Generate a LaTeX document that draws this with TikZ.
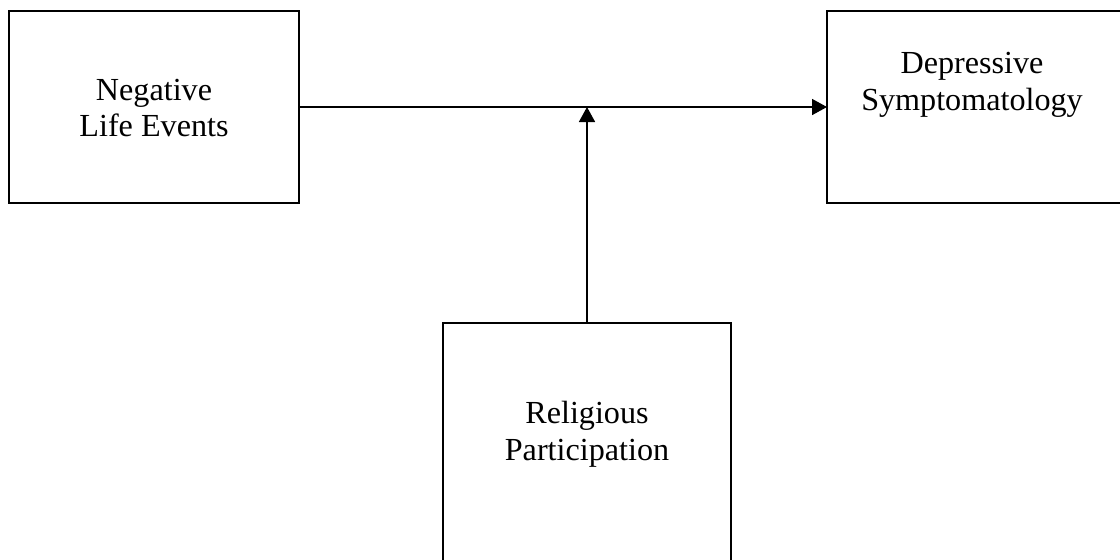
\documentclass[tikz,border=0pt]{standalone}
\usepackage{fontspec}
\setmainfont{Liberation Serif}
\usetikzlibrary{arrows.meta}
\begin{document}
\begin{tikzpicture}[x=0.37321pt,y=-0.37321pt,
  box/.style={draw=black,line width=0.6pt,inner sep=0pt,outer sep=0pt},
  lbl/.style={align=center,font=\fontsize{12}{13.8}\selectfont,inner sep=0pt},
  conn/.style={line width=0.5pt,-{Triangle[length=5.6pt,width=6pt]}}]
\useasboundingbox (0,0) rectangle (1120,559);
\clip (0,0) rectangle (1120,559);
\node[box,minimum width=108.23pt,minimum height=71.66pt] (neg) at (154,107) {};
\node[box,minimum width=110.1pt,minimum height=71.66pt] (dep) at (974.5,107) {};
\node[box,minimum width=107.48pt,minimum height=94.05pt] (rel) at (587,449) {};
\node[lbl] (negl) at (154,108) {Negative\\Life Events};
\node[lbl] (depl) at (972,85) {Depressive\\Symptomatology};
\node[lbl] (rell) at (587,434) {Religious\\Participation};
\draw[conn] (neg.east) -- (dep.west);
\draw[conn] (rel.north) -- (rel.north |- neg.east);
\end{tikzpicture}
\end{document}
